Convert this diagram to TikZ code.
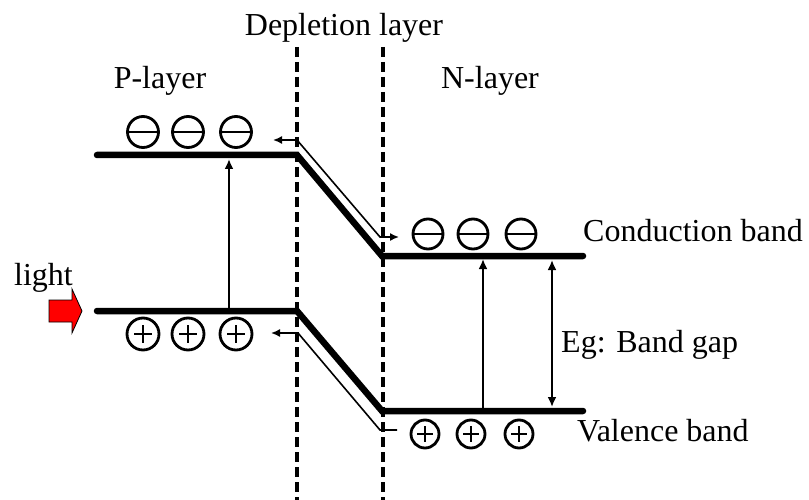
\documentclass[tikz,border=0pt]{standalone}
\usepackage{fontspec}
\setmainfont{Liberation Serif}
\usetikzlibrary{arrows.meta}
\tikzset{
  lbl/.style={font=\fontsize{32}{37}\selectfont, inner sep=0pt},
  band/.style={line width=6.5pt, line cap=round, line join=miter},
  thin/.style={line width=2.3pt},
  thinarrow/.style={line width=2.3pt, -{Latex[length=10pt,width=9pt]}},
  path/.style={line width=1.6pt},
  dashln/.style={line width=3.2pt, dash pattern=on 10pt off 5pt},
  elec/.style={circle, draw, line width=2.8pt, minimum size=31pt, inner sep=0pt,
    path picture={\draw[line width=2.8pt] (path picture bounding box.west) -- (path picture bounding box.east);}},
  hole/.style={circle, draw, line width=2.8pt, minimum size=#1, inner sep=0pt,
    path picture={\draw[line width=1.4pt] ([xshift=-0.28*#1]path picture bounding box.center) -- ([xshift=0.28*#1]path picture bounding box.center)
      ([yshift=-0.28*#1]path picture bounding box.center) -- ([yshift=0.28*#1]path picture bounding box.center);}},
}
\begin{document}
\begin{tikzpicture}[x=1pt,y=-1pt]
\useasboundingbox (0,0) rectangle (809,500);
% dashed depletion boundaries
\coordinate (d1t) at (297,47); \coordinate (d1b) at (297,500);
\coordinate (d2t) at (383,47); \coordinate (d2b) at (383,500);
\draw[dashln] (d1t) -- (d1b);
\draw[dashln] (d2t) -- (d2b);
% labels
\node[lbl, anchor=base] (dep) at (344,36) {Depletion layer};
\node[lbl, anchor=base] (pl) at (160,89) {P-layer};
\node[lbl, anchor=base] (nl) at (490,89) {N-layer};
\node[lbl, anchor=base west] (cb) at (583,241) {Conduction band};
\node[lbl, anchor=base west] (eg) at (561,352) {Eg: Band gap};
\node[lbl, anchor=base west] (vb) at (577,441) {Valence band};
\node[lbl, anchor=base east] (light) at (73,285) {light};
% bands
\coordinate (c1) at (97,155); \coordinate (c2) at (297,155);
\coordinate (c3) at (382,256); \coordinate (c4) at (583,256);
\coordinate (v1) at (97,311); \coordinate (v2) at (297,311);
\coordinate (v3) at (382,411); \coordinate (v4) at (583,411);
\draw[band] (c1) -- (c2) -- (c3) -- (c4);
\draw[band] (v1) -- (v2) -- (v3) -- (v4);
% excitation arrows
\coordinate (pa0) at (229,308); \coordinate (pa1) at (229,159);
\coordinate (na0) at (483,408); \coordinate (na1) at (483,259);
\draw[thinarrow] (pa0) -- (pa1);
\draw[thinarrow] (na0) -- (na1);
\coordinate (g0) at (552,260); \coordinate (g1) at (552,407);
\draw[thin, {Latex[length=10pt,width=9pt]}-{Latex[length=10pt,width=9pt]}] (g0) -- (g1);
% electron path
\coordinate (ea) at (273,140); \coordinate (eb) at (297,140);
\coordinate (ec) at (380,237); \coordinate (ed) at (399,237);
\draw[path, {Latex[length=9pt,width=8pt]}-{Latex[length=9pt,width=8pt]}] (ea) -- (eb) -- (ec) -- (ed);
% hole path
\coordinate (ha) at (271,333); \coordinate (hb) at (298,333);
\coordinate (hc) at (380,430); \coordinate (hd) at (397,430);
\draw[path, {Latex[length=9pt,width=8pt]}-] (ha) -- (hb) -- (hc) -- (hd);
% electrons
\node[elec] (e1) at (143,132) {};
\node[elec] (e2) at (188,132) {};
\node[elec] (e3) at (236,132) {};
\node[elec, minimum size=30pt] (e4) at (428,234) {};
\node[elec, minimum size=30pt] (e5) at (473,234) {};
\node[elec, minimum size=30pt] (e6) at (521,234) {};
% holes
\node[hole=32pt] (h1) at (143,334) {};
\node[hole=32pt] (h2) at (188,334) {};
\node[hole=32pt] (h3) at (236,334) {};
\node[hole=28pt] (h4) at (425,434) {};
\node[hole=28pt] (h5) at (471,434) {};
\node[hole=28pt] (h6) at (519,434) {};
% light arrow
\draw[fill=red, line width=0.8pt, line join=miter] (49,300) -- (72,300) -- (72,289) -- (82,311) -- (72,333) -- (72,322) -- (49,322) -- cycle;
\end{tikzpicture}
\end{document}
